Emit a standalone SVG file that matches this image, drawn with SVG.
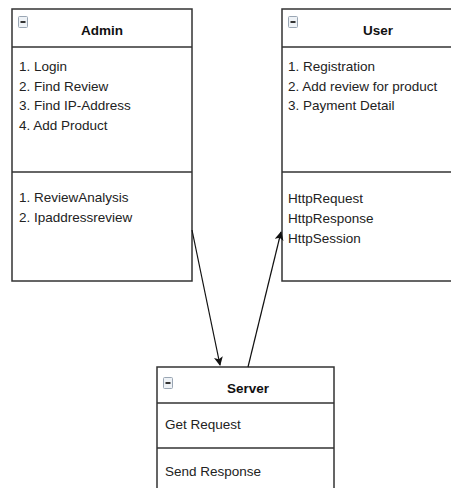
<svg xmlns="http://www.w3.org/2000/svg" width="451" height="488" viewBox="0 0 451 488">
<style>
.box{fill:#fff;stroke:#333;stroke-width:1.5}
.ln{stroke:#333;stroke-width:1.5;fill:none}
.t{font-family:"Liberation Sans",Arial,sans-serif;font-size:13.5px;fill:#222}
.h{font-family:"Liberation Sans",Arial,sans-serif;font-size:13.5px;font-weight:bold;fill:#111;text-anchor:middle}
.ic{fill:#eef2f6;stroke:#9aa6b4;stroke-width:1}
.icb{fill:#333}
.c{stroke:#111;stroke-width:1.2;fill:none;marker-end:url(#ah)}
</style>
<defs>
<marker id="ah" viewBox="0 0 10 10" refX="9" refY="5" markerWidth="9" markerHeight="9" markerUnits="userSpaceOnUse" orient="auto">
<path d="M0,0 L10,5 L0,10 L2.5,5 Z" fill="#111"/>
</marker>
</defs>
<rect width="451" height="488" fill="#fff"/>
<g id="admin">
<rect class="box" x="12" y="9" width="180" height="272"/>
<line class="ln" x1="12" y1="47" x2="192" y2="47"/>
<line class="ln" x1="12" y1="172" x2="192" y2="172"/>
<rect class="ic" x="18.5" y="16.5" width="9" height="11" rx="1"/>
<rect class="icb" x="20.5" y="21" width="5" height="2"/>
<text class="h" x="102" y="35">Admin</text>
<text class="t" x="19" y="71">1. Login</text>
<text class="t" x="19" y="90.5">2. Find Review</text>
<text class="t" x="19" y="110">3. Find IP-Address</text>
<text class="t" x="19" y="130">4. Add Product</text>
<text class="t" x="19" y="202">1. ReviewAnalysis</text>
<text class="t" x="19" y="222">2. Ipaddressreview</text>
</g>
<g id="user">
<rect class="box" x="282" y="9" width="190" height="272"/>
<line class="ln" x1="282" y1="47" x2="472" y2="47"/>
<line class="ln" x1="282" y1="172" x2="472" y2="172"/>
<rect class="ic" x="288.5" y="16.5" width="9" height="11" rx="1"/>
<rect class="icb" x="290.5" y="21" width="5" height="2"/>
<text class="h" x="378" y="35">User</text>
<text class="t" x="288" y="71">1. Registration</text>
<text class="t" x="288" y="90.5">2. Add review for product</text>
<text class="t" x="288" y="110">3. Payment Detail</text>
<text class="t" x="288" y="203">HttpRequest</text>
<text class="t" x="288" y="223">HttpResponse</text>
<text class="t" x="288" y="243">HttpSession</text>
</g>
<g id="server">
<rect class="box" x="157" y="367" width="177" height="130"/>
<line class="ln" x1="157" y1="403" x2="334" y2="403"/>
<line class="ln" x1="157" y1="448" x2="334" y2="448"/>
<rect class="ic" x="163.5" y="377.5" width="9" height="11" rx="1"/>
<rect class="icb" x="165.5" y="382" width="5" height="2"/>
<text class="h" x="248" y="393">Server</text>
<text class="t" x="165" y="429">Get Request</text>
<text class="t" x="165" y="476">Send Response</text>
</g>
<g id="connectors">
<line class="c" x1="192" y1="230" x2="220" y2="365"/>
<line class="c" x1="248" y1="367" x2="281" y2="232"/>
</g>
</svg>
